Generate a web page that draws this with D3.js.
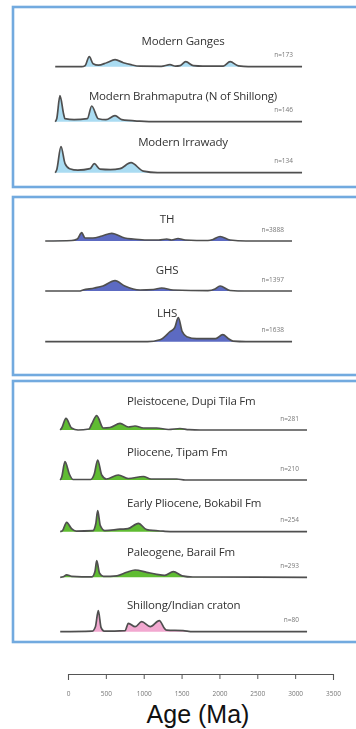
<!DOCTYPE html>
<html>
<head>
<meta charset="utf-8">
<script src="https://cdn.jsdelivr.net/npm/d3@7"></script>
<style>
  html, body { margin: 0; padding: 0; background: #fff; }
  svg { display: block; }
</style>
</head>
<body>
<svg id="chart" width="356" height="729"></svg>
<script>
// sample labels and counts
const labels = [
  "Modern Ganges", "Modern  Brahmaputra (N of Shillong)", "Modern  Irrawady",
  "TH", "GHS", "LHS",
  "Pleistocene, Dupi Tila Fm", "Pliocene, Tipam Fm", "Early Pliocene, Bokabil Fm",
  "Paleogene, Barail Fm", "Shillong/Indian craton"
];
const counts = ["n=173", "n=146", "n=134", "n=3888", "n=1397", "n=1638",
  "n=281", "n=210", "n=254", "n=293", "n=80"];

// relative probability density, [age Ma, density]
const ganges = [[-50,0],[300,0],[343,1],[400,10],[450,3],[520,1.5],[630,4],[740,7],[850,4],[950,2],[1070,0.5],[1350,0.3],[1466,2],[1540,0.5],[1600,1],[1674,5],[1774,1],[1900,0.5],[2170,0.5],[2260,5],[2370,0.8],[2500,0],[3210,0]];
const brahmaputra = [[-50,0],[-30,3],[13,26],[60,8],[79,3],[200,2],[374,3],[432,15.7],[519,3],[620,2],[740,6],[828,2],[1070,0.5],[1300,0],[3210,0]];
const irrawady = [[-50,0],[-30,3],[26,26],[80,9],[140,4],[250,2.5],[410,4],[466,9],[542,3.5],[680,3],[806,4],[951,10],[1114,1.5],[1300,0],[3210,0]];
const th = [[-50,0],[300,0.5],[374,2],[432,8.3],[476,3],[580,3],[700,5],[828,7.7],[1000,3],[1114,2],[1290,1],[1450,1],[1555,2],[1620,1],[1704,2.5],[1800,1],[2100,0.5],[2167,1.5],[2259,4.5],[2391,1],[2600,0],[3210,0]];
const ghs = [[-50,0],[400,0],[449,1],[600,3],[713,5],[872,10.3],[1000,5],[1202,1],[1377,1.5],[1489,3],[1638,1],[2100,0.3],[2193,2],[2259,5],[2391,0.5],[2600,0],[3210,0]];
const lhs = [[-50,0],[1300,0],[1466,2],[1598,10],[1660,14],[1708,24],[1760,10],[1819,5],[1950,3],[2074,3],[2200,3],[2295,7],[2370,3],[2431,0.5],[2600,0],[3210,0]];
const dupiTila = [[-50,0],[-30,2],[26,11.7],[100,2],[185,0],[330,1],[366,6],[432,14.3],[519,2],[608,2.5],[740,6.7],[850,3],[938,4],[1050,2],[1225,2],[1380,0.5],[1532,1.5],[1650,0.3],[1800,0],[3210,0]];
const tipam = [[-50,0],[-30,3],[13,18.3],[70,6],[120,0.5],[350,0.5],[400,6],[445,20],[498,5],[560,1],[717,5],[850,1.5],[1047,3.5],[1150,1],[1489,1],[1600,0],[3210,0]];
const bokabil = [[-50,0],[-20,1],[35,9.4],[100,3],[160,0.5],[380,1],[420,8],[445,21],[480,6],[540,1],[740,2.5],[845,3],[982,8.4],[1092,2],[1312,0.5],[1450,0],[3210,0]];
const barail = [[-50,0],[-10,0.5],[35,2.5],[100,1],[370,0.5],[410,6],[432,16.7],[470,4],[520,1],[700,1.5],[828,5],[938,7.3],[1092,5],[1225,3],[1330,2],[1444,5.6],[1560,1.5],[1700,0.3],[3210,0]];
const shillong = [[-50,0],[370,0.5],[415,5],[453,21],[490,4],[530,0.5],[806,1],[850,8.4],[940,5],[1026,10],[1140,5],[1259,11],[1330,3],[1357,1.5],[1572,1],[1700,0],[3210,0]];

const curves = [ganges, brahmaputra, irrawady, th, ghs, lhs, dupiTila, tipam, bokabil, barail, shillong];
const groups = ["modern", "modern", "modern", "hima", "hima", "hima", "basin", "basin", "basin", "basin", "craton"];
const axisTicks = [0, 500, 1000, 1500, 2000, 2500, 3000, 3500];

const groupColor = { modern: "#aadcf2", hima: "#5c6bc2", basin: "#5fbc30", craton: "#f2a8d0" };

// layout: one frame per panel
const panels = [
  { y0: 7,   y1: 187, shift: -9,  rows: [0, 1, 2],
    base: [66.7, 121.7, 172.7], labelY: [40.7, 95.7, 141.7], labelX: 183, anchor: "middle", nx: 293 },
  { y0: 197, y1: 375, shift: -19, rows: [3, 4, 5],
    base: [241, 291, 341.7], labelY: [219, 270, 312.7], labelX: 167, anchor: "middle", nx: 284 },
  { y0: 381, y1: 642, shift: -4,  rows: [6, 7, 8, 9, 10],
    base: [430, 480, 531.7, 577.3, 631.7], labelY: [401, 451.7, 502.7, 551.7, 605], labelX: 127, anchor: "start", nx: 299 }
];

const svg = d3.select("#chart");

const x = d3.scaleLinear().domain([0, 3500]).range([68, 333]);
const h = d3.scaleLinear().domain([0, 30]).range([0, 30]);

const defs = svg.append("defs");
defs.append("filter").attr("id", "soft")
  .append("feGaussianBlur").attr("stdDeviation", 0.45);

panels.forEach(p => {
  svg.append("rect")
    .attr("x", 13).attr("y", p.y0)
    .attr("width", 370).attr("height", p.y1 - p.y0)
    .attr("fill", "none")
    .attr("stroke", "#72aadf")
    .attr("stroke-width", 2.6);

  p.rows.forEach((r, i) => {
    const by = p.base[i];
    const g = svg.append("g")
      .attr("transform", `translate(${p.shift},0)`)
      .attr("filter", "url(#soft)");

    const area = d3.area()
      .x(d => x(d[0]))
      .y0(by)
      .y1(d => by - h(d[1]))
      .curve(d3.curveMonotoneX);

    const line = d3.line()
      .x(d => x(d[0]))
      .y(d => by - h(d[1]))
      .curve(d3.curveMonotoneX);

    g.append("path")
      .datum(curves[r])
      .attr("d", area)
      .attr("fill", groupColor[groups[r]]);

    g.append("path")
      .datum(curves[r])
      .attr("d", line)
      .attr("fill", "none")
      .attr("stroke", "#505050")
      .attr("stroke-width", 1.7)
      .attr("stroke-linejoin", "round");

    svg.append("text")
      .attr("x", p.labelX).attr("y", p.labelY[i])
      .attr("dy", "0.35em")
      .attr("text-anchor", p.anchor)
      .attr("font-family", "'Open Sans', sans-serif")
      .attr("font-size", 11.5)
      .attr("letter-spacing", -0.2)
      .attr("fill", "#333")
      .attr("filter", "url(#soft)")
      .text(labels[r]);

    svg.append("text")
      .attr("x", p.nx).attr("y", by - 9.5)
      .attr("text-anchor", "end")
      .attr("font-family", "'Open Sans', sans-serif")
      .attr("font-size", 6.5)
      .attr("fill", "#777")
      .attr("filter", "url(#soft)")
      .text(counts[r]);
  });
});

// age axis
const axisG = svg.append("g")
  .attr("transform", "translate(0,674)")
  .call(d3.axisBottom(x).tickValues(axisTicks).tickSize(5).tickSizeOuter(6).tickPadding(12).tickFormat(d3.format("d")));

axisG.select(".domain").attr("stroke", "#555").attr("stroke-width", 1.1);
axisG.selectAll(".tick line").attr("stroke", "#555").attr("stroke-width", 1);
axisG.selectAll(".tick text")
  .attr("font-family", "'Open Sans', sans-serif")
  .attr("font-size", 6.5)
  .attr("fill", "#777")
  .attr("filter", "url(#soft)");

svg.append("text")
  .attr("x", 198).attr("y", 723)
  .attr("text-anchor", "middle")
  .attr("font-family", "'Liberation Sans', Arial, sans-serif")
  .attr("font-size", 25)
  .attr("fill", "#111")
  .text("Age (Ma)");
</script>
</body>
</html>
